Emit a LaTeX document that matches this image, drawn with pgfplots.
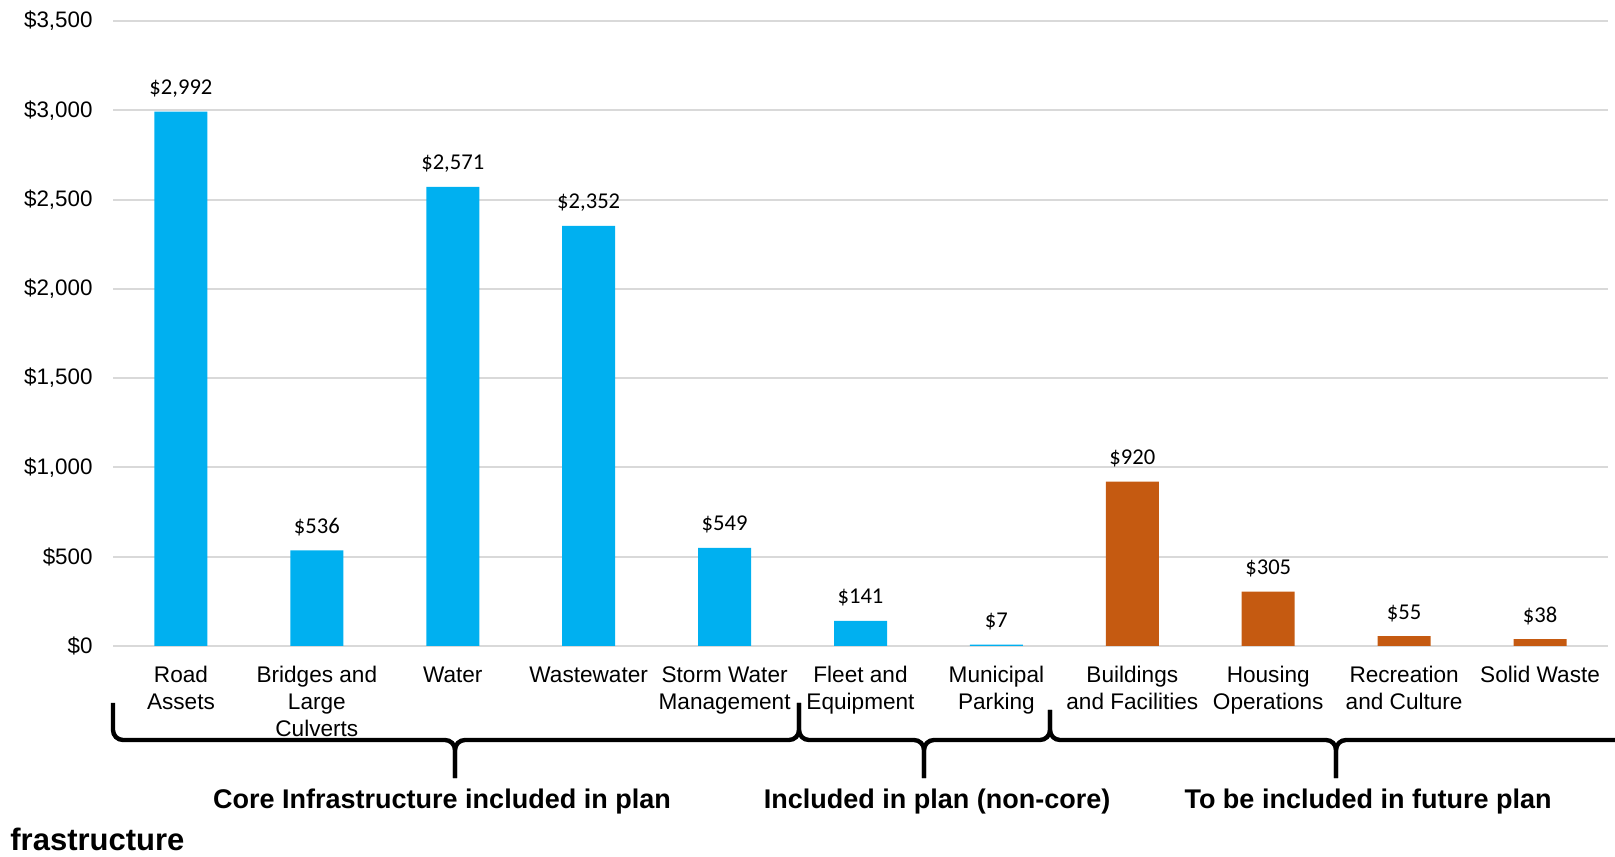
\documentclass[border=0pt]{standalone}
\usepackage{fontspec}
\setmainfont{Liberation Sans}
\newfontfamily\calibri{Carlito}
\usepackage{pgfplots}
\pgfplotsset{compat=1.18}
\definecolor{cblue}{HTML}{00B0F0}
\definecolor{corange}{HTML}{C55A11}
\definecolor{gridgray}{HTML}{D9D9D9}
\begin{document}
\begin{tikzpicture}
\useasboundingbox (0,0) rectangle (807.5pt,428pt);
\begin{axis}[
  at={(56.5pt,105pt)}, anchor=south west,
  scale only axis, width=747.5pt, height=312.5pt,
  xmin=-0.5, xmax=10.5, ymin=0, ymax=3500,
  ybar, bar width=26.5pt,
  axis line style={draw=none},
  tick style={draw=none},
  ymajorgrids, grid style={gridgray, line width=1pt},
  ytick={0,500,...,3500},
  yticklabels={\$0,\$500,{\$1,000},{\$1,500},{\$2,000},{\$2,500},{\$3,000},{\$3,500}},
  yticklabel style={font=\fontsize{11.2}{13}\selectfont, inner sep=0pt, anchor=east, xshift=-10pt},
  xtick={0,...,10},
  xticklabels={Road\\Assets, Bridges and\\Large\\Culverts, Water, Wastewater, Storm Water\\Management, Fleet and\\Equipment, Municipal\\Parking, Buildings\\and Facilities, Housing\\Operations, Recreation\\and Culture, Solid Waste},
  xticklabel style={font=\fontsize{11.3}{13.4}\selectfont, align=center, inner sep=0pt, anchor=north, yshift=-5.8pt},
  nodes near coords={\$\pgfmathprintnumber[1000 sep={,},assume math mode=true]{\pgfplotspointmeta}},
  every node near coord/.append style={font=\calibri\fontsize{11.3}{13}\selectfont, anchor=base, yshift=8.5pt, text=black},
  clip=false,
]
\addplot[fill=cblue, draw=none, bar shift=0pt] coordinates {(0,2992) (1,536) (2,2571) (3,2352) (4,549) (5,141) (6,7)};
\addplot[fill=corange, draw=none, bar shift=0pt] coordinates {(7,920) (8,305) (9,55) (10,38)};
\end{axis}
\begin{scope}[line width=2.2pt, rounded corners=5pt]
\draw (56.5pt,76.5pt) -- (56.5pt,58pt) -- (227.5pt,58pt) -- (227.5pt,39pt);
\draw (227.5pt,39pt) -- (227.5pt,58pt) -- (399.5pt,58pt) -- (399.5pt,76.5pt);
\draw (399.5pt,76.5pt) -- (399.5pt,58pt) -- (462pt,58pt) -- (462pt,39pt);
\draw (462pt,39pt) -- (462pt,58pt) -- (525pt,58pt) -- (525pt,73pt);
\draw (525pt,73pt) -- (525pt,58pt) -- (668pt,58pt) -- (668pt,39pt);
\draw (668pt,39pt) -- (668pt,58pt) -- (830pt,58pt) -- (830pt,76pt);
\end{scope}
\begin{scope}[every node/.style={font=\bfseries\fontsize{13.5}{16}\selectfont, inner sep=0pt}]
\node at (221pt,27pt) {Core Infrastructure included in plan};
\node at (468.5pt,27pt) {Included in plan (non-core)};
\node at (684pt,27pt) {To be included in future plan};
\node[anchor=west, font=\bfseries\fontsize{15.5}{18}\selectfont] at (5pt,8.5pt) {frastructure};
\end{scope}
\end{tikzpicture}
\end{document}
